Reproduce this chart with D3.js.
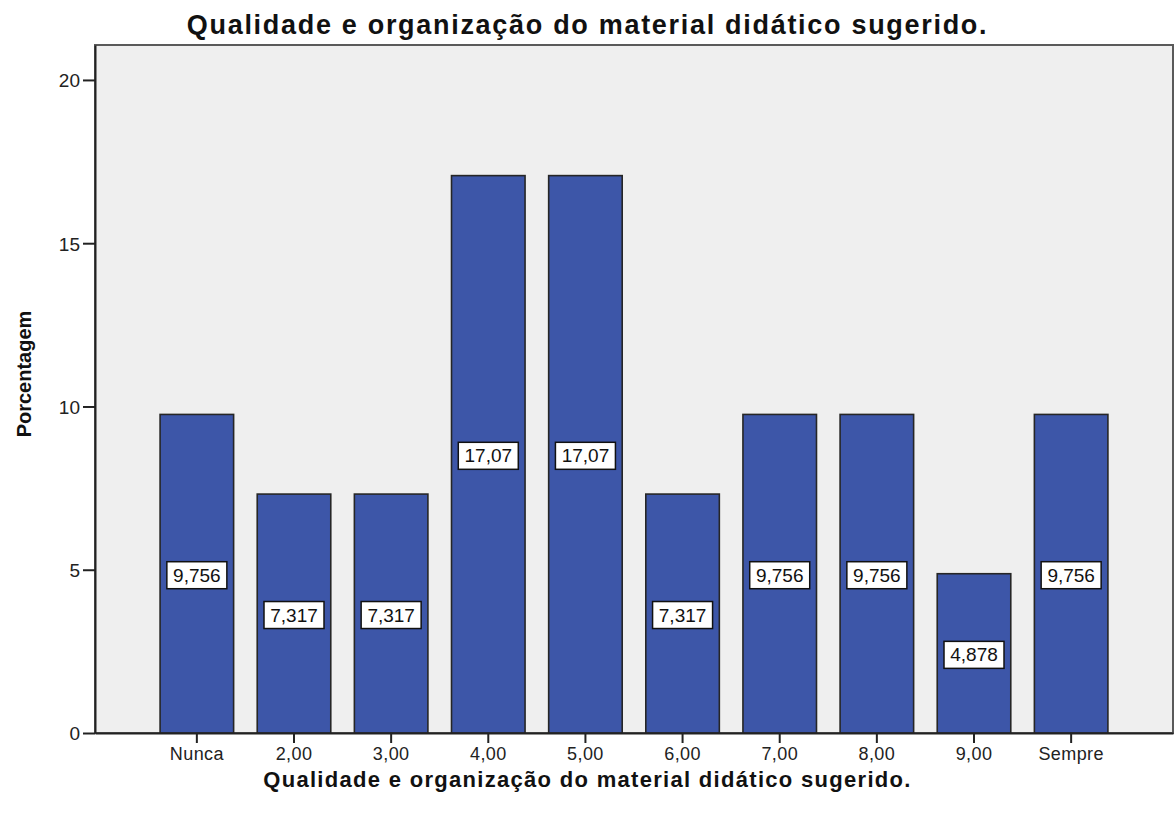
<!DOCTYPE html>
<html>
<head>
<meta charset="utf-8">
<script src="https://cdn.jsdelivr.net/npm/d3@7"></script>
<style>
  html, body { margin: 0; padding: 0; background: #ffffff; }
  svg { display: block; font-family: "Liberation Sans", Arial, sans-serif; }
</style>
</head>
<body>
<svg id="chart" width="1175" height="815"></svg>
<script>
// Categories on the x axis
const categories = ["Nunca", "2,00", "3,00", "4,00", "5,00", "6,00", "7,00", "8,00", "9,00", "Sempre"];
// Percentage for each category
const percentages = [9.756, 7.317, 7.317, 17.07, 17.07, 7.317, 9.756, 9.756, 4.878, 9.756];
// Y axis tick values
const yTicks = [0, 5, 10, 15, 20];

const titleText = "Qualidade e organização do material didático sugerido.";
const xTitleText = "Qualidade e organização do material didático sugerido.";
const yTitleText = "Porcentagem";

const W = 1175, H = 815;
const plot = { left: 95, right: 1173, top: 45, bottom: 733 };

const svg = d3.select("#chart");

// Portuguese-style decimal comma for value labels
const ptLocale = d3.formatLocale({ decimal: ",", thousands: ".", grouping: [3], currency: ["R$", ""] });
const fmt = ptLocale.format(".4");

const x = d3.scaleBand()
  .domain(categories)
  .range([plot.left, plot.right])
  .paddingInner(0.243)
  .paddingOuter(0.67);

const y = d3.scaleLinear()
  .domain([0, 21.07])
  .range([plot.bottom, plot.top]);

// Plot background
svg.append("rect")
  .attr("x", plot.left).attr("y", plot.top)
  .attr("width", plot.right - plot.left)
  .attr("height", plot.bottom - plot.top)
  .attr("fill", "#efefef")
  .attr("stroke", "#5a5a5a")
  .attr("stroke-width", 2);

// Bars
const data = categories.map((c, i) => ({ cat: c, val: percentages[i] }));

svg.append("g").selectAll("rect")
  .data(data)
  .join("rect")
  .attr("x", d => x(d.cat))
  .attr("y", d => y(d.val))
  .attr("width", x.bandwidth())
  .attr("height", d => y(0) - y(d.val))
  .attr("fill", "#3d56a8")
  .attr("stroke", "#262626")
  .attr("stroke-width", 1.6);

// Value labels in white boxes at mid-height of each bar
const labelG = svg.append("g").selectAll("g")
  .data(data)
  .join("g")
  .attr("transform", d => `translate(${x(d.cat) + x.bandwidth() / 2},${y(d.val / 2)})`);

labelG.append("rect")
  .attr("x", -30).attr("y", -12)
  .attr("width", 60).attr("height", 27)
  .attr("fill", "#ffffff")
  .attr("stroke", "#111")
  .attr("stroke-width", 1.5);

labelG.append("text")
  .attr("text-anchor", "middle")
  .attr("dy", "0.42em")
  .attr("font-size", 19)
  .attr("fill", "#111")
  .text(d => fmt(d.val));

// Y axis
const yAxis = svg.append("g")
  .attr("transform", `translate(${plot.left},0)`)
  .call(d3.axisLeft(y).tickValues(yTicks).tickSize(12).tickSizeOuter(0).tickPadding(3).tickFormat(d3.format("d")));
yAxis.select(".domain").attr("stroke", "#222").attr("stroke-width", 2);
yAxis.selectAll(".tick line").attr("stroke", "#222").attr("stroke-width", 2);
yAxis.selectAll(".tick text").attr("font-size", 19).attr("fill", "#222")
  .attr("font-family", "Liberation Sans, Arial, sans-serif").attr("dy", "0.36em");

// X axis
const xAxis = svg.append("g")
  .attr("transform", `translate(0,${plot.bottom})`)
  .call(d3.axisBottom(x).tickSize(10).tickSizeOuter(0).tickPadding(4));
xAxis.select(".domain").attr("stroke", "#222").attr("stroke-width", 2);
xAxis.selectAll(".tick line").attr("stroke", "#222").attr("stroke-width", 2);
xAxis.selectAll(".tick text").attr("font-size", 18).attr("fill", "#222")
  .attr("font-family", "Liberation Sans, Arial, sans-serif").attr("letter-spacing", 0.4);

// Titles
svg.append("text")
  .attr("x", W / 2).attr("y", 34)
  .attr("text-anchor", "middle")
  .attr("font-size", 27).attr("font-weight", "bold")
  .attr("letter-spacing", 1.7)
  .attr("fill", "#111")
  .text(titleText);

svg.append("text")
  .attr("x", W / 2).attr("y", 787)
  .attr("text-anchor", "middle")
  .attr("font-size", 22).attr("font-weight", "bold")
  .attr("letter-spacing", 1.3)
  .attr("fill", "#111")
  .text(xTitleText);

svg.append("text")
  .attr("transform", `translate(31,${374}) rotate(-90)`)
  .attr("text-anchor", "middle")
  .attr("font-size", 20).attr("font-weight", "bold")
  .attr("fill", "#111")
  .text(yTitleText);
</script>
</body>
</html>
